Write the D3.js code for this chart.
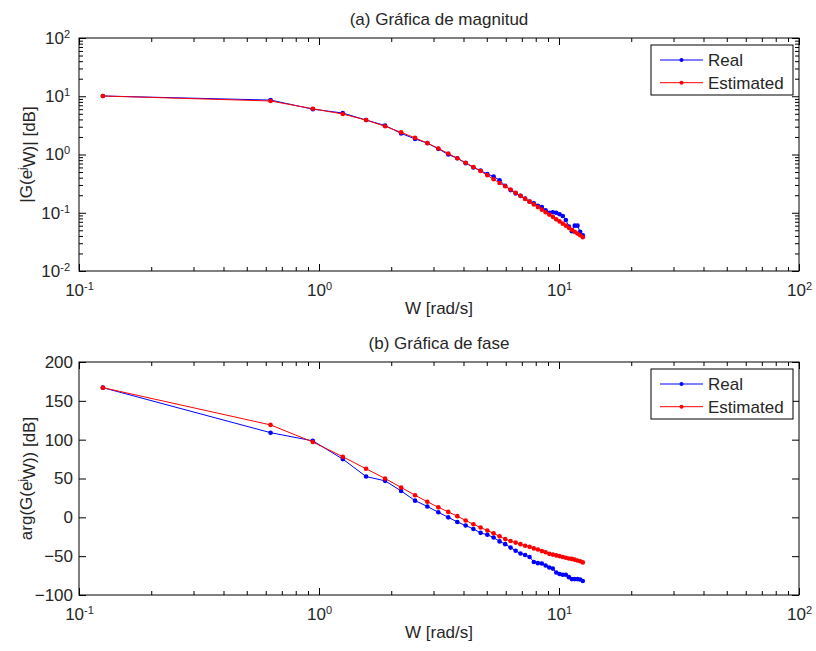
<!DOCTYPE html>
<html>
<head>
<meta charset="utf-8">
<script src="https://cdnjs.cloudflare.com/ajax/libs/d3/7.8.5/d3.min.js"></script>
<style>
  body { margin: 0; background: #fff; }
  text { font-family: "Liberation Sans", Arial, sans-serif; fill: #262626; }
</style>
</head>
<body>
<div id="chart"></div>
<script>
// frequencies (rad/s)
var freq = [0.1257, 0.6283, 0.9425, 1.2566, 1.5708, 1.8850, 2.1991, 2.5133, 2.8274, 3.1416,
  3.4558, 3.7699, 4.0841, 4.3982, 4.7124, 5.0265, 5.3407, 5.6549, 5.9690, 6.2832,
  6.5973, 6.9115, 7.2257, 7.5398, 7.8540, 8.1681, 8.4823, 8.7965, 9.1106, 9.4248,
  9.7389, 10.0531, 10.3673, 10.6814, 10.9956, 11.3097, 11.6239, 11.9381, 12.2522, 12.5664];

var magReal = [10.1, 8.6, 6.0, 5.15, 3.9, 3.15, 2.3, 1.85, 1.57, 1.25,
  1.0, 0.86, 0.71, 0.6, 0.53, 0.46, 0.42, 0.36, 0.29, 0.245,
  0.215, 0.195, 0.175, 0.155, 0.145, 0.132, 0.125, 0.11, 0.1, 0.102,
  0.1, 0.094, 0.088, 0.075, 0.058, 0.048, 0.06, 0.06, 0.047, 0.041];

var magEst = [10.1, 8.3, 6.1, 4.95, 3.9, 3.05, 2.4, 1.93, 1.57, 1.27,
  1.04, 0.86, 0.72, 0.61, 0.52, 0.44, 0.375, 0.325, 0.285, 0.25,
  0.22, 0.195, 0.173, 0.155, 0.139, 0.125, 0.113, 0.102, 0.093, 0.085,
  0.077, 0.071, 0.065, 0.06, 0.055, 0.051, 0.047, 0.044, 0.041, 0.038];

var phaseReal = [167, 109, 98.5, 75, 52.5, 47, 34, 21.5, 14, 6.5,
  0, -6, -10.5, -15, -20, -22.5, -26, -31, -34.5, -39,
  -43, -46.5, -48.5, -51, -57.5, -59, -59.5, -62, -64.5, -66,
  -71, -73, -74, -74, -77, -79.5, -79.5, -79.5, -80, -82];

var phaseEst = [167, 119, 97, 78, 62.5, 50, 38.5, 28.5, 20, 13,
  7, 1.5, -4, -9, -13, -17, -20.5, -24.5, -28, -30.5,
  -32.5, -34.5, -36.5, -38, -40, -41.5, -43.5, -45, -47, -48,
  -49, -50, -51, -52, -53, -53.5, -54.5, -55.5, -56.5, -58];

var xTicks = [0.1, 1, 10, 100];
var magTicks = [0.01, 0.1, 1, 10, 100];
var phaseTicks = [-100, -50, 0, 50, 100, 150, 200];
var seriesNames = ["Real", "Estimated"];
var seriesColors = ["#0000ff", "#ff0000"];

var svg = d3.select("#chart")
  .append("svg")
  .attr("width", 816)
  .attr("height", 651);

svg.append("rect").attr("width", 816).attr("height", 651).attr("fill", "#fff");

var width = 720, height = 233;

var xScale = d3.scaleLog().domain([0.1, 100]).range([0, width]);

function minors(lo, hi) {
  var out = [];
  for (var e = lo; e < hi; e++) {
    for (var m = 2; m <= 9; m++) out.push(m * Math.pow(10, e));
  }
  return out;
}

function supLabels(sel, anchor) {
  sel.selectAll(".tick text").each(function(d) {
    var t = d3.select(this);
    var e = Math.round(Math.log10(d));
    t.text(null).attr("text-anchor", anchor);
    t.append("tspan").text("10");
    t.append("tspan").attr("dy", "-0.55em").style("font-size", "11px").text(e);
  });
}

function drawPanel(top, yScale, isLog, real, est, title, ylabel) {
  var g = svg.append("g")
    .attr("transform", "translate(79," + top + ")");

  var ticksG = g.append("g");

  // x ticks, bottom and top, pointing inward
  ticksG.append("g")
    .attr("transform", "translate(0," + height + ")")
    .call(d3.axisBottom(xScale).tickValues(minors(-1, 2)).tickSizeInner(-4).tickSizeOuter(0).tickFormat(""));
  var xb = ticksG.append("g")
    .attr("transform", "translate(0," + height + ")")
    .call(d3.axisBottom(xScale).tickValues(xTicks).tickSizeInner(-7).tickSizeOuter(0).tickPadding(13));
  supLabels(xb, "middle");
  ticksG.append("g")
    .call(d3.axisTop(xScale).tickValues(minors(-1, 2)).tickSizeInner(-4).tickSizeOuter(0).tickFormat(""));
  ticksG.append("g")
    .call(d3.axisTop(xScale).tickValues(xTicks).tickSizeInner(-7).tickSizeOuter(0).tickFormat(""));

  if (isLog) {
    ticksG.append("g")
      .call(d3.axisLeft(yScale).tickValues(minors(-2, 2)).tickSizeInner(-4).tickSizeOuter(0).tickFormat(""));
    var yl = ticksG.append("g")
      .call(d3.axisLeft(yScale).tickValues(magTicks).tickSizeInner(-7).tickSizeOuter(0).tickPadding(9));
    supLabels(yl, "end");
    ticksG.append("g")
      .attr("transform", "translate(" + width + ",0)")
      .call(d3.axisRight(yScale).tickValues(minors(-2, 2)).tickSizeInner(-4).tickSizeOuter(0).tickFormat(""));
    ticksG.append("g")
      .attr("transform", "translate(" + width + ",0)")
      .call(d3.axisRight(yScale).tickValues(magTicks).tickSizeInner(-7).tickSizeOuter(0).tickFormat(""));
  } else {
    ticksG.append("g")
      .call(d3.axisLeft(yScale).tickValues(phaseTicks).tickSizeInner(-7).tickSizeOuter(0).tickPadding(6));
    ticksG.append("g")
      .attr("transform", "translate(" + width + ",0)")
      .call(d3.axisRight(yScale).tickValues(phaseTicks).tickSizeInner(-7).tickSizeOuter(0).tickFormat(""));
  }

  ticksG.selectAll(".domain").remove();
  ticksG.selectAll(".tick line").attr("stroke", "#000");
  ticksG.selectAll(".tick text")
    .style("font-size", "17px")
    .attr("fill", "#262626");

  // data lines
  var series = [real, est];
  series.forEach(function(vals, i) {
    var pts = vals.map(function(v, k) { return [freq[k], v]; });
    var line = d3.line()
      .x(function(d) { return xScale(d[0]); })
      .y(function(d) { return yScale(d[1]); });
    g.append("path")
      .datum(pts)
      .attr("d", line)
      .attr("fill", "none")
      .attr("stroke", seriesColors[i])
      .attr("stroke-width", 1);
    g.selectAll(".pt" + i)
      .data(pts)
      .enter().append("circle")
      .attr("class", "pt" + i)
      .attr("cx", function(d) { return xScale(d[0]); })
      .attr("cy", function(d) { return yScale(d[1]); })
      .attr("r", 2.3)
      .attr("fill", seriesColors[i]);
  });

  // box
  g.append("rect")
    .attr("width", width)
    .attr("height", height)
    .attr("fill", "none")
    .attr("stroke", "#000")
    .attr("stroke-width", 1);

  // title and labels
  g.append("text")
    .attr("x", width / 2)
    .attr("y", -13)
    .attr("text-anchor", "middle")
    .style("font-size", "17px")
    .text(title);

  g.append("text")
    .attr("x", width / 2)
    .attr("y", height + 43)
    .attr("text-anchor", "middle")
    .style("font-size", "17px")
    .text("W [rad/s]");

  var yt = g.append("text")
    .attr("transform", "translate(-47," + (height / 2) + ") rotate(-90)")
    .attr("text-anchor", "middle")
    .style("font-size", "17px");
  yt.append("tspan").text(ylabel[0]);
  yt.append("tspan").attr("dy", "-0.55em").style("font-size", "11px").text("j");
  yt.append("tspan").attr("dy", "0.55em").text(ylabel[1]);

  // legend
  var lg = g.append("g").attr("transform", "translate(" + (width - 148) + ",7)");
  lg.append("rect")
    .attr("width", 142)
    .attr("height", 50)
    .attr("fill", "#fff")
    .attr("stroke", "#000")
    .attr("stroke-width", 1);
  seriesNames.forEach(function(name, i) {
    var yy = 15 + i * 22.7;
    lg.append("line")
      .attr("x1", 9).attr("x2", 52)
      .attr("y1", yy).attr("y2", yy)
      .attr("stroke", seriesColors[i]);
    lg.append("circle")
      .attr("cx", 30.5).attr("cy", yy).attr("r", 2)
      .attr("fill", seriesColors[i]);
    lg.append("text")
      .attr("x", 57)
      .attr("y", yy)
      .attr("dy", "0.35em")
      .style("font-size", "17px")
      .text(name);
  });
}

var yMag = d3.scaleLog().domain([0.01, 100]).range([height, 0]);
var yPhase = d3.scaleLinear().domain([-100, 200]).range([height, 0]);

drawPanel(38, yMag, true, magReal, magEst, "(a) Gráfica de magnitud", ["|G(e", "W)| [dB]"]);
drawPanel(362, yPhase, false, phaseReal, phaseEst, "(b) Gráfica de fase", ["arg(G(e", "W)) [dB]"]);
</script>
</body>
</html>
